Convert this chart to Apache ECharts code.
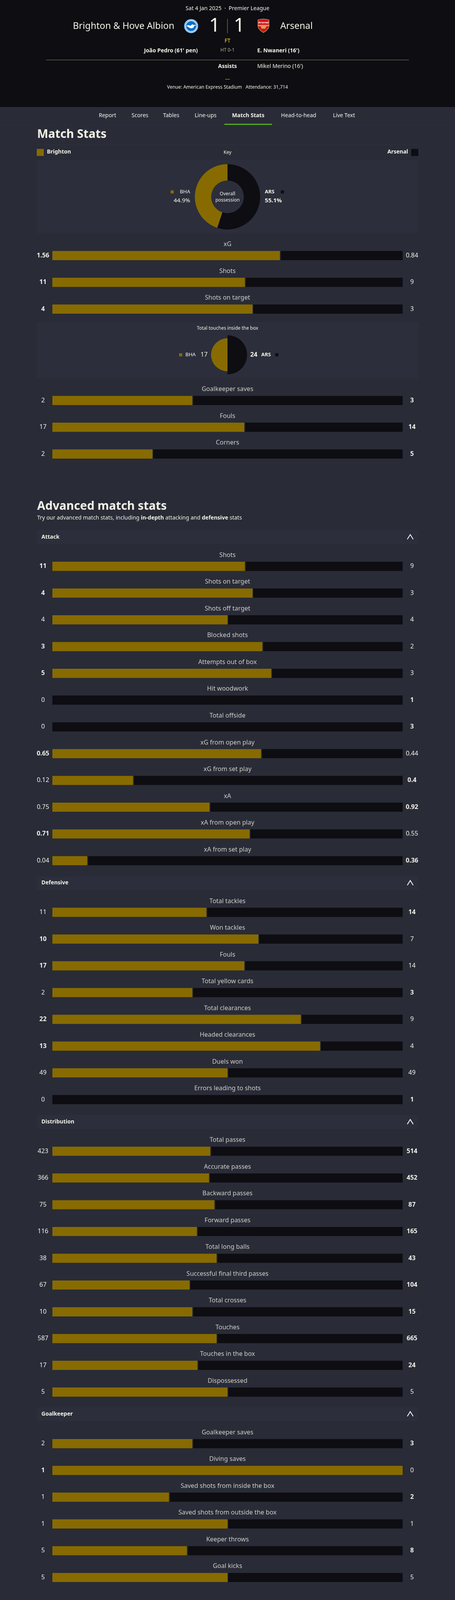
<!DOCTYPE html>
<html>
<head>
<meta charset="utf-8">
<title>Brighton v Arsenal match stats</title>
<script src="https://cdn.jsdelivr.net/npm/echarts@6/dist/echarts.min.js"></script>
<style>
  html, body { margin: 0; padding: 0; background: #292b37; overflow: hidden; }
  #main { width: 1164px; }
</style>
</head>
<body>
<div id="main"></div>
<script>
// overall possession and touches in the box (first entry is drawn from 12 o'clock, clockwise)
const possessionTeams = ['ARS', 'BHA'];
const possessionValues = [55.1, 44.9];
const touchTeams = ['ARS', 'BHA'];
const touchValues = [24, 17];

// top block, above the touches circle
const keyTopNames = ['xG', 'Shots', 'Shots on target'];
const keyTopHome = [1.56, 11, 4];
const keyTopAway = [0.84, 9, 3];

// top block, below the touches circle
const keyLowNames = ['Goalkeeper saves', 'Fouls', 'Corners'];
const keyLowHome = [2, 17, 2];
const keyLowAway = [3, 14, 5];
const keyLowBold = ['a', 'a', 'a']; // fewer fouls counts as the better number here

const attackNames = ['Shots', 'Shots on target', 'Shots off target', 'Blocked shots', 'Attempts out of box', 'Hit woodwork', 'Total offside', 'xG from open play', 'xG from set play', 'xA', 'xA from open play', 'xA from set play'];
const attackHome = [11, 4, 4, 3, 5, 0, 0, 0.65, 0.12, 0.75, 0.71, 0.04];
const attackAway = [9, 3, 4, 2, 3, 1, 3, 0.44, 0.4, 0.92, 0.55, 0.36];

const defensiveNames = ['Total tackles', 'Won tackles', 'Fouls', 'Total yellow cards', 'Total clearances', 'Headed clearances', 'Duels won', 'Errors leading to shots'];
const defensiveHome = [11, 10, 17, 2, 22, 13, 49, 0];
const defensiveAway = [14, 7, 14, 3, 9, 4, 49, 1];

const distributionNames = ['Total passes', 'Accurate passes', 'Backward passes', 'Forward passes', 'Total long balls', 'Successful final third passes', 'Total crosses', 'Touches', 'Touches in the box', 'Dispossessed'];
const distributionHome = [423, 366, 75, 116, 38, 67, 10, 587, 17, 5];
const distributionAway = [514, 452, 87, 165, 43, 104, 15, 665, 24, 5];

const keeperNames = ['Goalkeeper saves', 'Diving saves', 'Saved shots from inside the box', 'Saved shots from outside the box', 'Keeper throws', 'Goal kicks'];
const keeperHome = [2, 1, 1, 1, 5, 5];
const keeperAway = [3, 0, 2, 1, 8, 5];

const navItems = ['Report', 'Scores', 'Tables', 'Line-ups', 'Match Stats', 'Head-to-head', 'Live Text'];
const navCentres = [275, 358, 438, 526, 635, 764, 880];

const FONT = '"Noto Sans", sans-serif';
const GOLD = '#876b00';
const BLACK = '#0d0d12';
const PAGE = '#292b37';
const PANEL = '#2c2e3b';
const TEXT = '#f2f2e6';
const TAN = '#b9b794';

// page is laid out for 4902px; a shorter window squeezes the vertical spacing so nothing falls off the bottom
const PAGE_H = 4902;
const H = Math.min(PAGE_H, window.innerHeight || PAGE_H);
const sy = H / PAGE_H;
const dr = 1 - sy; // how far labels move in when the circles shrink
function Y(v) { return v * sy; }

document.getElementById('main').style.height = H + 'px';

const ROW = Y(82);
const BAR = Y(28);

// each block of bars: top is the upper edge of the first row
const blocks = [
  { top: Y(742), names: keyTopNames, home: keyTopHome, away: keyTopAway },
  { top: Y(1186), names: keyLowNames, home: keyLowHome, away: keyLowAway, bold: keyLowBold },
  { top: Y(1694), names: attackNames, home: attackHome, away: attackAway },
  { top: Y(2754), names: defensiveNames, home: defensiveHome, away: defensiveAway },
  { top: Y(3486), names: distributionNames, home: distributionHome, away: distributionAway },
  { top: Y(4382), names: keeperNames, home: keeperHome, away: keeperAway }
];

function boldSide(block, i) {
  if (block.bold) return block.bold[i];
  if (block.home[i] > block.away[i]) return 'h';
  if (block.away[i] > block.home[i]) return 'a';
  return '';
}

const valueRich = {
  n: { fontFamily: FONT, fontSize: 16, color: TEXT },
  b: { fontFamily: FONT, fontSize: 16, fontWeight: 'bold', color: TEXT }
};

var grids = [], xAxes = [], yAxes = [], series = [];

blocks.forEach(function (block, k) {
  const shares = block.home.map(function (h, i) { return h / (h + block.away[i]); });
  const yLeft = yAxes.length;

  grids.push({ left: 134, width: 896, top: block.top, height: block.names.length * ROW });
  xAxes.push({ gridIndex: k, type: 'value', min: 0, max: 1, show: false });

  // the numbers at both ends of a bar are the tick labels of two category axes
  ['left', 'right'].forEach(function (side) {
    const isHome = side === 'left';
    yAxes.push({
      gridIndex: k,
      type: 'category',
      inverse: true,
      position: side,
      data: block.names,
      axisLine: { show: false },
      axisTick: { show: false },
      axisLabel: {
        interval: 0,
        margin: 24,
        align: 'center',
        rich: valueRich,
        formatter: function (value, i) {
          const v = isHome ? block.home[i] : block.away[i];
          return '{' + (boldSide(block, i) === (isHome ? 'h' : 'a') ? 'b' : 'n') + '|' + v + '}';
        }
      }
    });
  });

  series.push({
    type: 'bar', stack: 'row' + k, xAxisIndex: k, yAxisIndex: yLeft, barWidth: BAR,
    itemStyle: { color: GOLD }, data: shares
  });
  series.push({
    type: 'bar', stack: 'row' + k, xAxisIndex: k, yAxisIndex: yLeft, barWidth: BAR,
    itemStyle: { color: BLACK }, data: shares.map(function (s) { return 1 - s; })
  });
  // 2px split between the two colours
  series.push({
    type: 'scatter', xAxisIndex: k, yAxisIndex: yLeft, symbol: 'rect', symbolSize: [2, BAR], symbolOffset: [1, 0], z: 3,
    itemStyle: { color: PAGE, opacity: 1 },
    data: shares.map(function (s, i) { return [s, i]; }).filter(function (d) { return d[0] > 0 && d[0] < 1; })
  });
  // stat name above the middle of the bar
  series.push({
    type: 'scatter', xAxisIndex: k, yAxisIndex: yLeft, symbolSize: 0, z: 4,
    label: {
      show: true, position: 'inside', offset: [0, -Y(34)],
      fontFamily: FONT, fontSize: 16, color: TEXT,
      formatter: function (p) { return block.names[p.data[1]]; }
    },
    data: block.names.map(function (n, i) { return [0.5, i]; })
  });
});

// possession donut
series.push({
  type: 'pie', center: [582, Y(603)], radius: [Y(50), Y(100)], startAngle: 90, z: 2,
  label: { show: false }, labelLine: { show: false },
  data: possessionTeams.map(function (t, i) {
    return { name: t, value: possessionValues[i], itemStyle: { color: t === 'BHA' ? GOLD : BLACK } };
  })
});

// touches circle: two equal half circles, area follows the value so radius is the root
series.push({
  type: 'pie', roseType: 'area', center: [582, Y(1087)], radius: [0, Y(60)], startAngle: 90, z: 2,
  label: { show: false }, labelLine: { show: false },
  data: touchTeams.map(function (t, i) {
    return { name: t, value: Math.sqrt(touchValues[i]), itemStyle: { color: t === 'BHA' ? GOLD : BLACK } };
  })
});

function txt(x, y, text, opt) {
  opt = opt || {};
  return {
    type: 'text', x: x, y: Y(y), z: 10, silent: true,
    style: {
      text: text,
      fontFamily: FONT,
      fontSize: opt.size || 14,
      fontWeight: opt.bold ? 'bold' : 'normal',
      fill: opt.color || TEXT,
      align: opt.align || 'left',
      verticalAlign: 'middle',
      rich: opt.rich
    }
  };
}

function box(x, y, w, h, color, z) {
  return { type: 'rect', z: z === undefined ? -1 : z, silent: true, shape: { x: x, y: Y(y), width: w, height: h > 4 ? Y(h) : h }, style: { fill: color } };
}

// square legend swatches stay square
function swatch(x, y, size, color) {
  return { type: 'rect', z: 5, silent: true, shape: { x: x, y: Y(y + size / 2) - size / 2, width: size, height: size }, style: { fill: color } };
}

// crests keep their shape: points are given at full size around a centre
function shape(cx, cy, points, color, z) {
  return {
    type: 'polygon', z: z, silent: true,
    shape: { points: points.map(function (p) { return [cx + (p[0] - cx) * sy, Y(cy) + (p[1] - cy) * sy]; }) },
    style: { fill: color }
  };
}

function disc(cx, cy, r, style) {
  return { type: 'circle', z: 5, silent: true, shape: { cx: cx, cy: Y(cy), r: r * sy }, style: style };
}

function chevron(y) {
  return {
    type: 'polyline', z: 10, silent: true,
    shape: { points: [[1042, Y(y) + 6], [1049.5, Y(y) - 6], [1057, Y(y) + 6]] },
    style: { stroke: '#ffffff', lineWidth: 2, fill: null }
  };
}

function sectionHead(y, label) {
  return [box(94, y, 976, 43, PANEL), txt(106, y + 21, label, { size: 14, bold: true }), chevron(y + 21)];
}

var graphics = [
  // header band
  box(0, 0, 1164, 328, BLACK),
  txt(582, 26, '{t|Sat 4 Jan 2025}{t|  ·  }{w|Premier League}', {
    align: 'center',
    rich: { t: { fontFamily: FONT, fontSize: 14, color: TAN }, w: { fontFamily: FONT, fontSize: 14, color: TEXT } }
  }),
  txt(446, 80, 'Brighton & Hove Albion', { size: 23.5, align: 'right' }),
  txt(717, 80, 'Arsenal', { size: 23.5 }),
  txt(549, 80, '1', { size: 50, align: 'center' }),
  txt(612, 80, '1', { size: 50, align: 'center' }),
  box(581, 58, 1.5, 44, GOLD, 5),

  // Brighton crest
  disc(489, 80, 22, { fill: '#1c6fbd' }),
  disc(489, 80, 20.5, { fill: '#ffffff' }),
  disc(489, 80, 18, { fill: null, stroke: '#1c6fbd', lineWidth: 2, lineDash: [2, 1.5] }),
  disc(489, 80, 15.5, { fill: '#0a6fc9' }),
  shape(489, 80, [[474, 79], [481, 77], [487, 79], [493, 74], [495, 76], [505, 77], [498, 80], [496, 85], [489, 87], [482, 84]], '#ffffff', 6),

  // Arsenal crest
  shape(674, 80, [[656, 60], [665, 58], [674, 57], [683, 58], [692, 60], [692, 80], [690, 87], [683, 95], [674, 101], [665, 95], [658, 87], [656, 80]], '#9c824a', 5),
  shape(674, 80, [[658, 62], [666, 60], [674, 59.5], [682, 60], [690, 62], [690, 80], [688, 86], [682, 93], [674, 98], [666, 93], [660, 86], [658, 80]], '#db0a16', 5),
  txt(674, 70, 'Arsenal', { size: 7, bold: true, align: 'center', color: '#ffffff' }),
  shape(674, 80, [[657, 76], [691, 76], [691, 80], [682, 81], [680, 88], [668, 88], [666, 81], [657, 80]], '#c9a55c', 6),

  txt(582, 126, 'FT', { color: '#ffd02b', align: 'center' }),
  txt(506, 156, "João Pedro (61' pen)", { bold: true, align: 'right' }),
  txt(582, 154, 'HT 0-1', { size: 12, color: TAN, align: 'center' }),
  txt(658, 156, "E. Nwaneri (16')", { bold: true }),
  box(118, 183, 928, 1, '#8d8558', 5),
  txt(582, 203, 'Assists', { bold: true, align: 'center' }),
  txt(658, 203, "Mikel Merino (16')"),
  box(576, 242, 12, 1.5, '#a98700', 5),
  txt(582, 267, '{t|Venue: }{w|American Express Stadium}{t|   Attendance: }{w|31,714}', {
    align: 'center',
    rich: { t: { fontFamily: FONT, fontSize: 12, color: TAN }, w: { fontFamily: FONT, fontSize: 12, color: TEXT } }
  }),

  // tabs
  box(0, 382, 1164, 1, '#30323f'),
  box(574, 379, 122, 3, '#56b01c', 5),

  // match stats heading and key
  txt(95, 412, 'Match Stats', { size: 30, bold: true }),
  box(94, 443, 976, 1, '#30323f'),
  swatch(94, 458, 18, GOLD),
  txt(120, 466, 'Brighton', { bold: true }),
  txt(582, 468, 'Key', { size: 12, align: 'center' }),
  txt(1044, 466, 'Arsenal', { bold: true, align: 'right' }),
  swatch(1052, 458, 18, BLACK),

  // possession panel
  box(94, 490, 976, 225, PANEL),
  txt(582, 594, 'Overall', { size: 12, align: 'center' }),
  txt(582, 613, 'possession', { size: 12, align: 'center' }),
  swatch(420 + 100 * dr, 584, 8, GOLD),
  txt(470 + 100 * dr, 588, 'BHA', { size: 13, align: 'right' }),
  txt(470 + 100 * dr, 615, '44.9%', { size: 15, align: 'right' }),
  txt(694 - 100 * dr, 588, 'ARS', { size: 13, bold: true }),
  swatch(735 - 100 * dr, 584, 8, BLACK),
  txt(694 - 100 * dr, 615, '55.1%', { size: 15, bold: true }),

  // touches panel
  box(94, 986, 976, 173, PANEL),
  txt(582, 1006, 'Total touches inside the box', { size: 12, align: 'center' }),
  swatch(450 + 50 * dr, 1083, 8, GOLD),
  txt(466 + 50 * dr, 1087, 'BHA', { size: 13 }),
  txt(523 + 50 * dr, 1087, '17', { size: 16, align: 'right' }),
  txt(650 - 60 * dr, 1087, '24', { size: 16, bold: true }),
  txt(678 - 60 * dr, 1087, 'ARS', { size: 13, bold: true }),
  swatch(714 - 60 * dr, 1083, 8, BLACK),

  // advanced heading
  txt(95, 1551, 'Advanced match stats', { size: 30, bold: true }),
  txt(95, 1587, 'Try our advanced match stats, including {b|in-depth} attacking and {b|defensive} stats', {
    rich: { b: { fontFamily: FONT, fontSize: 14, fontWeight: 'bold', color: TEXT } }
  })
];

navItems.forEach(function (item, i) {
  graphics.push(txt(navCentres[i], 354, item, { align: 'center', bold: item === 'Match Stats' }));
});

graphics = graphics
  .concat(sectionHead(1624, 'Attack'))
  .concat(sectionHead(2684, 'Defensive'))
  .concat(sectionHead(3416, 'Distribution'))
  .concat(sectionHead(4311, 'Goalkeeper'));

var myChart = echarts.init(document.getElementById('main'));

myChart.setOption({
  animation: false,
  backgroundColor: PAGE,
  textStyle: { fontFamily: FONT },
  grid: grids,
  xAxis: xAxes,
  yAxis: yAxes,
  series: series,
  graphic: graphics
});
</script>
</body>
</html>
